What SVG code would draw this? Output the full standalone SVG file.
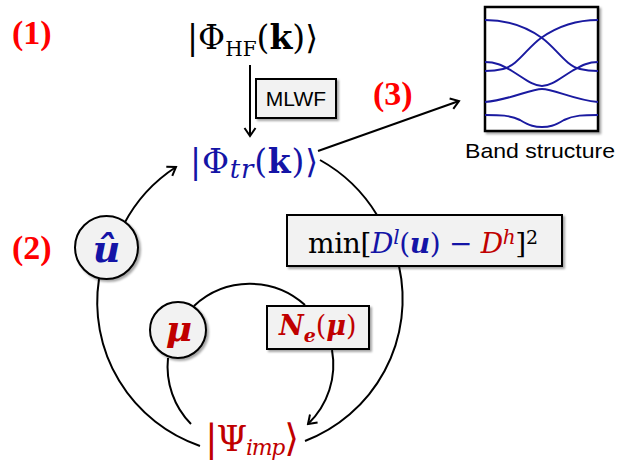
<svg xmlns="http://www.w3.org/2000/svg" width="618" height="462" viewBox="0 0 618 462">
<defs>
<filter id="sh" x="-20%" y="-20%" width="140%" height="140%">
<feDropShadow dx="2" dy="2" stdDeviation="1.2" flood-color="#000" flood-opacity="0.35"/>
</filter>
<marker id="ah" viewBox="-10 -7 12 14" markerWidth="12" markerHeight="14" refX="0" refY="0" orient="auto" markerUnits="userSpaceOnUse">
<path d="M-8,-5.5 L0,0 L-8,5.5" fill="none" stroke="#000" stroke-width="2"/>
</marker>
</defs>
<style>
.ln{fill:none;stroke:#000;stroke-width:2}
.box{fill:#f2f2f2;stroke:#000;stroke-width:2}
.m{font-family:"DejaVu Serif","Liberation Serif",serif}
.num{font-family:"Liberation Serif",serif;font-weight:bold;font-size:34px;fill:#ff0000}
.sans{font-family:"Liberation Sans",Arial,sans-serif}
.bl{fill:#1414a6}
.rd{fill:#c00000}
.it{font-style:italic}
.bd{font-weight:bold}
.band{fill:none;stroke:#1a1aa0;stroke-width:2}
</style>

<g id="connectors">
<path class="ln" d="M250,65 L250,136" marker-end="url(#ah)"/>
<path class="ln" d="M318,151 L459,101" marker-end="url(#ah)"/>
<path class="ln" d="M124,224 A152,152 0 0 1 176,167" marker-end="url(#ah)"/>
<path class="ln" d="M99,279 A152,152 0 0 0 200,446"/>
<path class="ln" d="M305,441 A152,152 0 0 0 399,266"/>
<path class="ln" d="M377,215 A154,154 0 0 0 320,160"/>
<path class="ln" d="M194,306 A82,82 0 0 1 305,305"/>
<path class="ln" d="M332,350 A82,82 0 0 1 308,424" marker-end="url(#ah)"/>
<path class="ln" d="M168,358 A82,82 0 0 0 191,424"/>
</g>

<g id="label1"><text class="num" x="12" y="44">(1)</text></g>
<g id="label2"><text class="num" x="12" y="259">(2)</text></g>
<g id="label3"><text class="num" x="373" y="105">(3)</text></g>

<g id="phiHF">
<text class="m" x="187" y="49" font-size="33" fill="#000" textLength="131" lengthAdjust="spacing">|Φ<tspan font-size="20" dy="7">HF</tspan><tspan dy="-7">(</tspan><tspan class="bd">k</tspan>)⟩</text>
</g>

<g id="mlwf">
<rect class="box" x="256" y="79" width="80" height="39" filter="url(#sh)"/>
<text class="sans" x="296" y="106" font-size="21" text-anchor="middle">MLWF</text>
</g>

<g id="phiTr">
<text class="m bl" x="190" y="173" font-size="33" textLength="128" lengthAdjust="spacing">|Φ<tspan font-size="26" class="it" dy="5">tr</tspan><tspan dy="-5">(</tspan><tspan class="bd">k</tspan>)⟩</text>
</g>

<g id="bands">
<rect x="485" y="7" width="113" height="124" fill="#fff" stroke="#000" stroke-width="2.5" filter="url(#sh)"/>
<path class="band" d="M485,20 C505,20 525,26 542,38 C556,48 566,66 580,69 C588,71 592,71 598,71"/>
<path class="band" d="M598,20 C578,20 558,26 541,38 C527,48 517,66 503,69 C495,71 491,71 485,71"/>
<path class="band" d="M485,62 C497,62 503,66 512,71 C525,79 533,86 542,86 C551,86 559,79 572,71 C581,66 587,62 598,62"/>
<path class="band" d="M485,102 C510,100 530,89 542,89 C554,89 574,100 598,102"/>
<path class="band" d="M485,115 C500,115 510,115 520,120 C530,126 535,127 542,127 C549,127 554,126 564,120 C574,115 584,115 598,115"/>
<text class="sans" x="465" y="158" font-size="21" textLength="150" lengthAdjust="spacingAndGlyphs">Band structure</text>
</g>

<g id="uhat">
<circle cx="106.5" cy="247.5" r="31.5" fill="#f2f2f2" stroke="#000" stroke-width="2" filter="url(#sh)"/>
<text class="m bl" x="106.5" y="262" font-size="38" font-weight="bold" font-style="italic" text-anchor="middle">û</text>
</g>

<g id="minbox">
<rect class="box" x="287" y="215" width="275" height="51" filter="url(#sh)"/>
<text class="m" x="308" y="253" font-size="28" textLength="230" lengthAdjust="spacing">min[<tspan class="bl it">D</tspan><tspan class="bl it" font-size="20" dy="-9">l</tspan><tspan class="bl" dy="9">(</tspan><tspan class="bl bd it">u</tspan><tspan class="bl">) − </tspan><tspan class="rd it">D</tspan><tspan class="rd it" font-size="20" dy="-9">h</tspan><tspan dy="9">]</tspan><tspan font-size="19" dy="-9">2</tspan></text>
</g>

<g id="mu">
<circle cx="178" cy="330" r="28" fill="#f2f2f2" stroke="#000" stroke-width="2" filter="url(#sh)"/>
<text class="m rd" x="179" y="341" font-size="36" font-weight="bold" font-style="italic" text-anchor="middle">μ</text>
</g>

<g id="ne">
<rect class="box" x="267" y="306" width="102" height="43" filter="url(#sh)"/>
<text class="m rd" x="279" y="335" font-size="27"><tspan class="bd it">N</tspan><tspan y="342" font-size="19" class="bd it">e</tspan><tspan y="335">(</tspan><tspan class="bd it">μ</tspan>)</text>
</g>

<g id="psi">
<text class="m rd" x="205" y="451" font-size="35" textLength="94" lengthAdjust="spacing"><tspan font-size="38">|</tspan>Ψ<tspan y="455" font-size="22" class="it">imp</tspan><tspan y="451" font-size="38">⟩</tspan></text>
</g>
</svg>
